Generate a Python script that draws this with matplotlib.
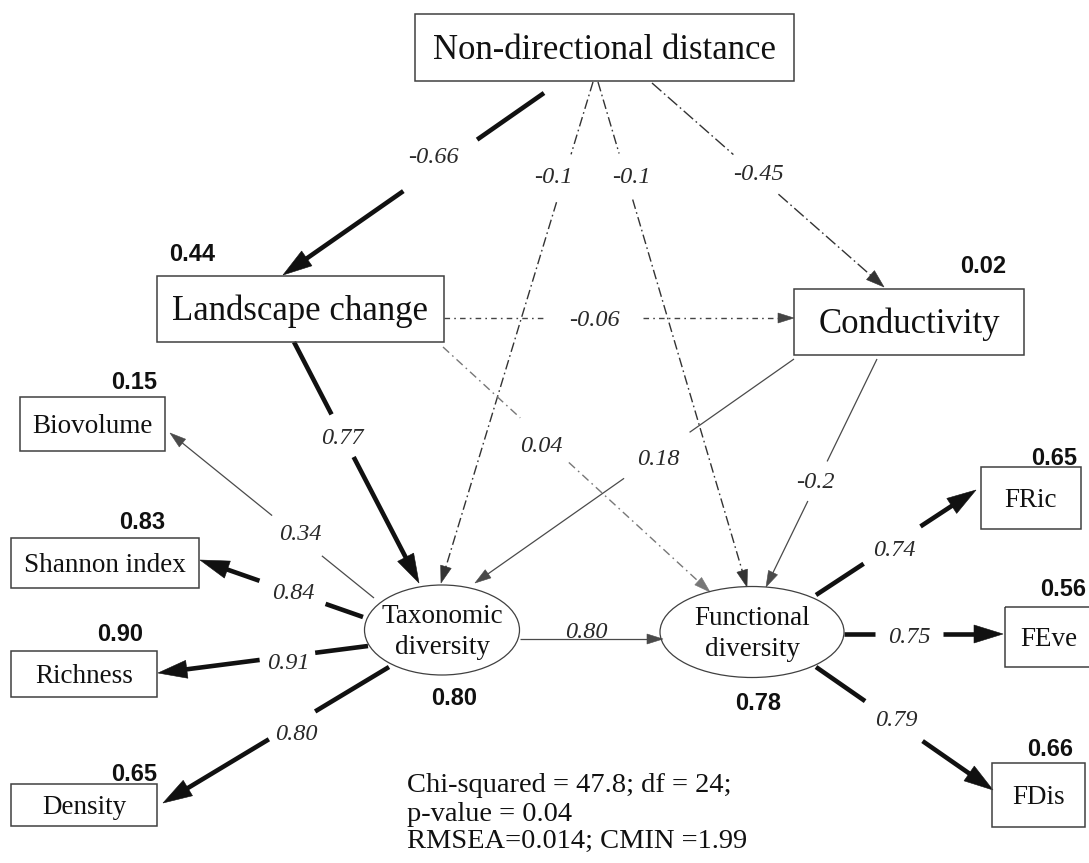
import matplotlib
matplotlib.use("Agg")
import matplotlib.pyplot as plt
from matplotlib.patches import Rectangle, Ellipse, Polygon
import numpy as np

# ---------------- data ----------------
box_nodes = ["Non-directional distance", "Landscape change", "Conductivity",
             "Biovolume", "Shannon index", "Richness", "Density",
             "FRic", "FEve", "FDis"]
latent_nodes = ["Taxonomic diversity", "Functional diversity"]

r2_nodes = ["Landscape change", "Conductivity", "Biovolume", "Shannon index",
            "Richness", "Taxonomic diversity", "Density", "Functional diversity",
            "FRic", "FEve", "FDis"]
r2_values = [0.44, 0.02, 0.15, 0.83, 0.90, 0.80, 0.65, 0.78, 0.65, 0.56, 0.66]

edge_from = ["Non-directional distance"] * 4 + ["Landscape change"] * 3 + \
            ["Conductivity"] * 2 + ["Taxonomic diversity"] * 5 + \
            ["Functional diversity"] * 3
edge_to = ["Landscape change", "Taxonomic diversity", "Functional diversity",
           "Conductivity", "Conductivity", "Taxonomic diversity",
           "Functional diversity", "Taxonomic diversity", "Functional diversity",
           "Biovolume", "Shannon index", "Richness", "Density",
           "Functional diversity", "FRic", "FEve", "FDis"]
edge_coef = ["-0.66", "-0.1", "-0.1", "-0.45", "-0.06", "0.77", "0.04", "0.18",
             "-0.2", "0.34", "0.84", "0.91", "0.80", "0.80", "0.74", "0.75", "0.79"]

fit_lines = ["Chi-squared = 47.8; df = 24;",
             "p-value = 0.04",
             "RMSEA=0.014; CMIN =1.99"]

# ---------------- layout (pixel space) ----------------
box_layout = {
    "Non-directional distance": (415, 14, 794, 81, 25),
    "Landscape change": (157, 276, 444, 342, 25),
    "Conductivity": (794, 289, 1024, 355, 25),
    "Biovolume": (20, 397, 165, 451, 19.5),
    "Shannon index": (11, 538, 199, 588, 19.5),
    "Richness": (11, 651, 157, 697, 19.5),
    "Density": (11, 784, 157, 826, 19.5),
    "FRic": (981, 467, 1081, 529, 19.5),
    "FEve": (1005, 607, 1092, 667, 19.5),
    "FDis": (992, 763, 1085, 827, 19.5),
}
ellipse_layout = {
    "Taxonomic diversity": (442, 630, 155, 90),
    "Functional diversity": (752, 632, 184, 91),
}
r2_layout = {
    "Landscape change": (192, 252), "Conductivity": (983, 264),
    "Biovolume": (134, 380), "Shannon index": (142, 520),
    "Richness": (120, 632), "Taxonomic diversity": (454, 696),
    "Density": (134, 772), "Functional diversity": (758, 701),
    "FRic": (1054, 456), "FEve": (1063, 587), "FDis": (1050, 747),
}
# start, tip, label centre, half gap, style
edge_layout = [
    ((544, 93), (283, 275), (433, 155), 45, "thick"),
    ((593, 82), (441, 583), (553, 175), 25, "dashdot"),
    ((598, 82), (747, 587), (631, 175), 24, "dashdot"),
    ((652, 83), (884, 287), (758, 172), 30, "dashdot_long"),
    ((444, 318), (794, 318), (594, 318), 49, "dashdot_short"),
    ((294, 342), (419, 583), (342, 436), 24, "thick"),
    ((443, 347), (710, 592), (541, 444), 33, "dash_light"),
    ((794, 359), (475, 583), (658, 457), 40, "thin"),
    ((877, 359), (766, 587), (815, 480), 22, "thin"),
    ((374, 598), (170, 433), (300, 532), 32, "thin"),
    ((363, 617), (200, 560), (293, 591), 35, "thick"),
    ((368, 646), (158, 673), (288, 661), 28, "thick"),
    ((389, 667), (163, 803), (296, 732), 27, "thick"),
    ((520, 639), (663, 639), (586, 630), 0, "thin"),
    ((816, 595), (976, 490), (894, 548), 34, "thick"),
    ((844, 634), (1003, 634), (909, 635), 34, "thick"),
    ((816, 667), (993, 790), (896, 718), 35, "thick"),
]
styles = {
    "thick": dict(lw=3.3, color="#111111", dashes=None, head=(29, 18)),
    "thin": dict(lw=0.9, color="#4a4a4a", dashes=None, head=(16, 10)),
    "dashdot": dict(lw=1.0, color="#333333", dashes=(7, 2.5, 1.2, 2.5), head=(17, 11)),
    "dashdot_long": dict(lw=1.0, color="#333333", dashes=(9, 2.5, 1.2, 2.5), head=(18, 12)),
    "dashdot_short": dict(lw=1.0, color="#444444", dashes=(4, 3, 1.2, 3), head=(16, 10)),
    "dash_light": dict(lw=1.0, color="#777777", dashes=(6, 3, 1.2, 3), head=(16, 10)),
}
fit_x = 407
fit_baselines = [792, 821, 848]

SERIF = ["Liberation Serif", "DejaVu Serif"]
SANS = ["Liberation Sans", "DejaVu Sans"]
plt.rcParams["lines.scale_dashes"] = False
PX = 100 / 72.0

fig = plt.figure(figsize=(10.89, 8.63), dpi=100)
ax = fig.add_axes([0, 0, 1, 1])
ax.set_xlim(0, 1089)
ax.set_ylim(863, 0)
ax.axis("off")

# boxes
for name in box_nodes:
    x0, y0, x1, y1, fs = box_layout[name]
    ax.add_patch(Rectangle((x0, y0), x1 - x0, y1 - y0, fill=False,
                           ec="#404040", lw=1.1, zorder=3))
    cy = (y0 + y1) / 2 + 0.33 * fs * PX
    ax.text((x0 + x1) / 2, cy, name, family=SERIF, fontsize=fs,
            ha="center", va="baseline", color="#111111", zorder=4)

# latent ellipses
for name in latent_nodes:
    cx, cy, w, h = ellipse_layout[name]
    ax.add_patch(Ellipse((cx, cy), w, h, fill=False, ec="#404040", lw=0.9, zorder=3))
    w1, w2 = name.split(" ")
    ax.text(cx, cy - 7, w1, family=SERIF, fontsize=19.5, ha="center",
            va="baseline", color="#111111", zorder=4)
    ax.text(cx, cy + 24, w2, family=SERIF, fontsize=19.5, ha="center",
            va="baseline", color="#111111", zorder=4)

# R2 labels
for name, val in zip(r2_nodes, r2_values):
    x, y = r2_layout[name]
    ax.text(x, y + 0.36 * 17 * PX, f"{val:.2f}", family=SANS, fontweight="bold",
            fontsize=17, ha="center", va="baseline", color="#111111", zorder=4)

# edges
def draw_edge(p0, p1, lab, gap, st):
    p0 = np.array(p0, float)
    p1 = np.array(p1, float)
    d = p1 - p0
    L = np.hypot(*d)
    u = d / L
    n = np.array([-u[1], u[0]])
    hl, hw = st["head"]
    end = L - hl + 2
    if gap > 0:
        t = np.dot(np.array(lab, float) - p0, u)
        segs = [(0, t - gap), (t + gap, end)]
    else:
        segs = [(0, end)]
    for a, b in segs:
        if b > a:
            q0 = p0 + u * a
            q1 = p0 + u * b
            kw = dict(color=st["color"], lw=st["lw"], solid_capstyle="butt",
                      dash_capstyle="butt", zorder=2)
            line, = ax.plot([q0[0], q1[0]], [q0[1], q1[1]], **kw)
            if st["dashes"] is not None:
                line.set_dashes(st["dashes"])
    base = p1 - u * hl
    tri = np.array([p1, base + n * hw / 2, base - n * hw / 2])
    ax.add_patch(Polygon(tri, closed=True, fc=st["color"], ec=st["color"],
                         lw=0.4, zorder=2))

for src, dst, coef, lay in zip(edge_from, edge_to, edge_coef, edge_layout):
    p0, p1, lab, gap, sname = lay
    draw_edge(p0, p1, lab, gap, styles[sname])
    ax.text(lab[0], lab[1] + 0.34 * 17.5 * PX, coef, family=SERIF, style="italic",
            fontsize=17.5, ha="center", va="baseline", color="#2a2a2a", zorder=4)

# fit statistics
for line, yb in zip(fit_lines, fit_baselines):
    ax.text(fit_x, yb, line, family=SERIF, fontsize=20.5, ha="left",
            va="baseline", color="#111111", zorder=4)

fig.savefig("out.png", dpi=100, facecolor="white")
